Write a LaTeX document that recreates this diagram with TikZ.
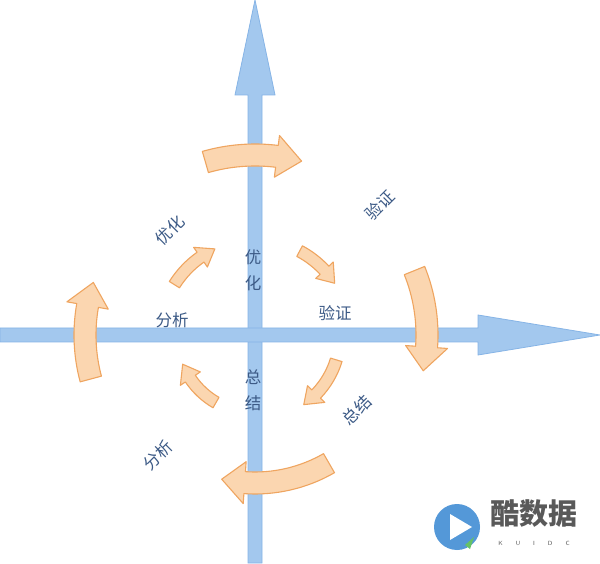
\documentclass[tikz,border=0pt]{standalone}
\usepackage{fontspec}
\newfontfamily\cjk{Noto Sans CJK SC}
\definecolor{axfill}{HTML}{A3C8EE}
\definecolor{axline}{HTML}{86B4E6}
\definecolor{orfill}{HTML}{FBD6B0}
\definecolor{orline}{HTML}{EFA560}
\definecolor{txt}{HTML}{3C5A86}
\newcommand\arcarrow[8]{%
 \pgfmathsetmacro\am{#5-#8*sign(#5-#4)}%
 \pgfmathsetmacro\ro{#3+#6}\pgfmathsetmacro\ri{#3-#6}%
 \pgfmathsetmacro\ho{#3+#7}\pgfmathsetmacro\hi{#3-#7}%
 \draw[arr] ([shift={(#1pt,#2pt)}]#4:\ro pt) arc[start angle=#4,end angle=\am,radius=\ro pt]
  -- ([shift={(#1pt,#2pt)}]\am:\ho pt) -- ([shift={(#1pt,#2pt)}]#5:#3pt)
  -- ([shift={(#1pt,#2pt)}]\am:\hi pt) -- ([shift={(#1pt,#2pt)}]\am:\ri pt)
  arc[start angle=\am,end angle=#4,radius=\ri pt] -- cycle;}
\begin{document}
\begin{tikzpicture}[x=1pt,y=1pt,
 axis/.style={fill=axfill,draw=axline,line width=0.8pt},
 arr/.style={fill=orfill,draw=orline,line width=1.1pt,line join=round},
 lab/.style={text=txt,font=\cjk\fontsize{16.5}{17}\selectfont,inner sep=0pt}]
\useasboundingbox (0,0) rectangle (600,563);
\fill[white] (0,0) rectangle (600,563);
% axes
\draw[axis] (248,0) -- (248,468) -- (235,468) -- (255,563) -- (275,468) -- (262,468) -- (262,0) -- cycle;
\draw[axis] (0,221) -- (478,221) -- (478,208) -- (600,228) -- (478,248) -- (478,235) -- (0,235) -- cycle;
% outer arrows
\arcarrow{255}{228}{180}{106}{75}{11}{21}{8}
\arcarrow{255}{228}{172}{22}{-12}{11}{21}{8}
\arcarrow{255}{228}{148}{-60}{-103}{11}{21}{9}
\arcarrow{255}{228}{170}{195}{162}{11}{21}{8}
% inner arrows
\arcarrow{255}{228}{95}{148}{115}{6}{12}{10}
\arcarrow{255}{228}{95}{62}{33}{6}{12}{10}
\arcarrow{255}{228}{85}{-17}{-55}{6}{12}{11}
\arcarrow{255}{228}{78}{-120}{-158}{6}{12}{12}
% labels
\node[lab] (i1) at (253,306) {优};
\node[lab] (i2) at (253,280) {化};
\node[lab] (i3) at (335,250) {验证};
\node[lab] (i4) at (253,186) {总};
\node[lab] (i5) at (253,160) {结};
\node[lab] (i6) at (172,243) {分析};
\node[lab,rotate=45] (o1) at (170,333) {优化};
\node[lab,rotate=45] (o2) at (380,358) {验证};
\node[lab,rotate=45] (o3) at (357,153) {总结};
\node[lab,rotate=45] (o4) at (158,108) {分析};
% logo
\fill[cyan!60!blue!70] (457,36) circle (23);
\fill[white] (450,49) -- (450,23) -- (472,36) -- cycle;
\fill[green!60!black!60] (465,18) -- (474,26) -- (470,14) -- cycle;
\node[text=black!65,font=\cjk\bfseries\fontsize{29}{30}\selectfont,inner sep=0pt] (lg) at (534,49) {酷数据};
\node[text=black!65,font=\sffamily\fontsize{6}{7}\selectfont,inner sep=0pt] (lk) at (534,20) {K\hspace{13pt}U\hspace{13pt}I\hspace{13pt}D\hspace{13pt}C};
\end{tikzpicture}
\end{document}
